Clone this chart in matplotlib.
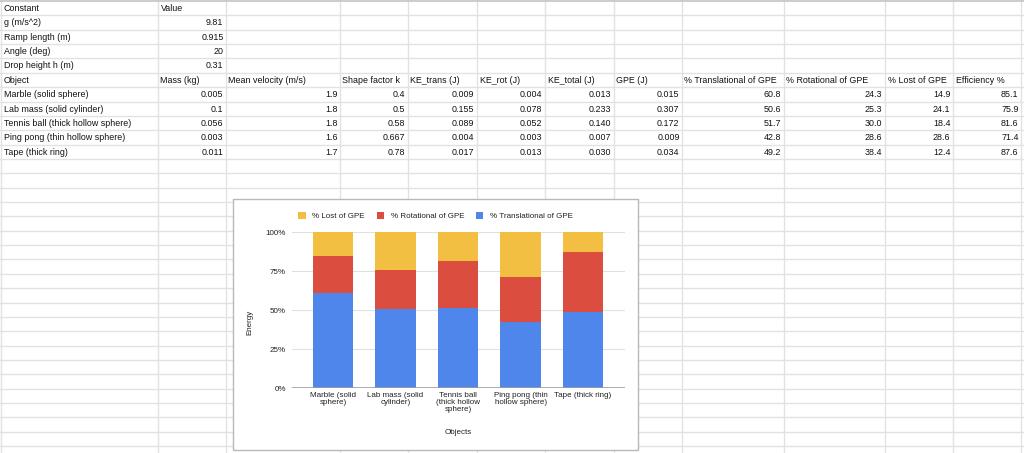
import matplotlib
matplotlib.use("Agg")
import matplotlib.pyplot as plt
from matplotlib.patches import Rectangle, Patch
import numpy as np

plt.rcParams['font.family'] = ['Liberation Sans', 'DejaVu Sans']

# ---------------- data ----------------
constant_names = ["g (m/s^2)", "Ramp length (m)", "Angle (deg)", "Drop height h (m)"]
constant_values = [9.81, 0.915, 20, 0.31]

headers = ["Object", "Mass (kg)", "Mean velocity (m/s)", "Shape factor k", "KE_trans (J)",
           "KE_rot (J)", "KE_total (J)", "GPE (J)", "% Translational of GPE",
           "% Rotational of GPE", "% Lost of GPE", "Efficiency %"]
objects = ["Marble (solid sphere)", "Lab mass (solid cylinder)", "Tennis ball (thick hollow sphere)",
           "Ping pong (thin hollow sphere)", "Tape (thick ring)"]
mass = [0.005, 0.1, 0.056, 0.003, 0.011]
velocity = [1.9, 1.8, 1.8, 1.6, 1.7]
shape_k = [0.4, 0.5, 0.58, 0.667, 0.78]
ke_trans = [0.009, 0.155, 0.089, 0.004, 0.017]
ke_rot = [0.004, 0.078, 0.052, 0.003, 0.013]
ke_total = [0.013, 0.233, 0.140, 0.007, 0.030]
gpe = [0.015, 0.307, 0.172, 0.009, 0.034]
pct_trans = [60.8, 50.6, 51.7, 42.8, 49.2]
pct_rot = [24.3, 25.3, 30.0, 28.6, 38.4]
pct_lost = [14.9, 24.1, 18.4, 28.6, 12.4]
efficiency = [85.1, 75.9, 81.6, 71.4, 87.6]

chart_labels = ["Marble (solid\nsphere)", "Lab mass (solid\ncylinder)", "Tennis ball\n(thick hollow\nsphere)",
                "Ping pong (thin\nhollow sphere)", "Tape (thick ring)"]
y_ticks = [0, 25, 50, 75, 100]
y_tick_labels = ["0%", "25%", "50%", "75%", "100%"]

# ---------------- figure ----------------
W, H = 1024, 453
fig = plt.figure(figsize=(W / 100, H / 100), dpi=100)
fig.patch.set_facecolor("white")

bg = fig.add_axes([0, 0, 1, 1])
bg.set_xlim(0, W)
bg.set_ylim(H, 0)
bg.axis("off")

col_edges = [1, 158, 226, 340, 408, 477, 545, 614, 682, 784, 885, 953, 1021]
row_h = 14.36
row0 = 1.0
n_lines = int((H - row0) / row_h) + 1
grid_c = "#e2e2e2"
for k in range(1, n_lines + 1):
    y = row0 + k * row_h
    bg.plot([0, W], [y, y], color=grid_c, lw=1.0, zorder=1)
for x in col_edges:
    bg.plot([x, x], [0, H], color=grid_c, lw=1.0, zorder=1)
bg.plot([0, W], [0.6, 0.6], color="#c4c4c4", lw=1.2, zorder=2)

fs_tab = 6.4
txt_c = "#111111"


def cell_text(row, col, s, align="left"):
    yc = row0 + row * row_h + row_h / 2 + 0.3
    if align == "left":
        x = col_edges[col] + 2.5
    else:
        x = col_edges[col + 1] - 2.5
    bg.text(x, yc, s, ha=align, va="center", fontsize=fs_tab, color=txt_c, zorder=3)


cell_text(0, 0, "Constant")
cell_text(0, 1, "Value")
for i, (n, v) in enumerate(zip(constant_names, constant_values)):
    cell_text(i + 1, 0, n)
    cell_text(i + 1, 1, f"{v:g}", "right")

for j, h in enumerate(headers):
    cell_text(5, j, h)

columns = [
    (mass, "{:g}"), (velocity, "{:g}"), (shape_k, "{:g}"), (ke_trans, "{:.3f}"),
    (ke_rot, "{:.3f}"), (ke_total, "{:.3f}"), (gpe, "{:.3f}"), (pct_trans, "{:.1f}"),
    (pct_rot, "{:.1f}"), (pct_lost, "{:.1f}"), (efficiency, "{:.1f}"),
]
for i, obj in enumerate(objects):
    r = 6 + i
    cell_text(r, 0, obj)
    for j, (vals, fmt) in enumerate(columns):
        cell_text(r, j + 1, fmt.format(vals[i]), "right")

# chart box
cx0, cy0, cx1, cy1 = 233, 199, 638, 450
bg.add_patch(Rectangle((cx0, cy0), cx1 - cx0, cy1 - cy0, facecolor="white",
                       edgecolor="#b9b9b9", lw=1.0, zorder=10))

# ---------------- chart ----------------
px0, px1 = 291.7, 625.0
py_top, py_bot = 232.3, 388.3
ax = fig.add_axes([px0 / W, 1 - py_bot / H, (px1 - px0) / W, (py_bot - py_top) / H])
ax.set_facecolor("none")

c_blue = "#4f86ec"
c_red = "#db4d3e"
c_yellow = "#f2bf42"

trans = np.array(pct_trans)
rot = np.array(pct_rot)
lost = np.array(pct_lost)
tot = trans + rot + lost
t_n = trans / tot * 100
r_n = rot / tot * 100
l_n = lost / tot * 100
x = np.arange(len(chart_labels))
bw = 0.65
ax.bar(x, t_n, bw, color=c_blue, zorder=3)
ax.bar(x, r_n, bw, bottom=t_n, color=c_red, zorder=3)
ax.bar(x, l_n, bw, bottom=t_n + r_n, color=c_yellow, zorder=3)

ax.set_xlim(-0.66, 4.67)
ax.set_ylim(0, 100)
ax.set_yticks(y_ticks)
ax.set_yticklabels(y_tick_labels)
ax.set_xticks(x)
ax.set_xticklabels(chart_labels, linespacing=1.0)
for s in ax.spines.values():
    s.set_visible(False)
ax.tick_params(axis="both", length=0, labelsize=5.8, labelcolor="#222222")
ax.tick_params(axis="y", pad=4.2)
ax.tick_params(axis="x", pad=3.0)
ax.yaxis.grid(True, color="#e0e0e0", lw=0.8, zorder=0)
ax.set_axisbelow(True)
ax.axhline(0, color="#9e9e9e", lw=1.2, zorder=4)

fig.text(250 / W, 1 - 322.5 / H, "Energy", rotation=90, ha="center", va="center",
         fontsize=5.8, color="#222222")
fig.text(458 / W, 1 - 433 / H, "Objects", ha="center", va="center",
         fontsize=5.8, color="#222222")

handles = [Patch(facecolor=c_yellow), Patch(facecolor=c_red), Patch(facecolor=c_blue)]
names = ["% Lost of GPE", "% Rotational of GPE", "% Translational of GPE"]
fig.legend(handles, names, loc="center", bbox_to_anchor=(435.5 / W, 1 - 215.7 / H),
           ncol=3, frameon=False, fontsize=5.8, handlelength=0.95, handleheight=0.95,
           handletextpad=0.8, columnspacing=1.45, borderpad=0, borderaxespad=0,
           labelcolor="#222222")

fig.savefig("out.png", dpi=100, facecolor="white")
